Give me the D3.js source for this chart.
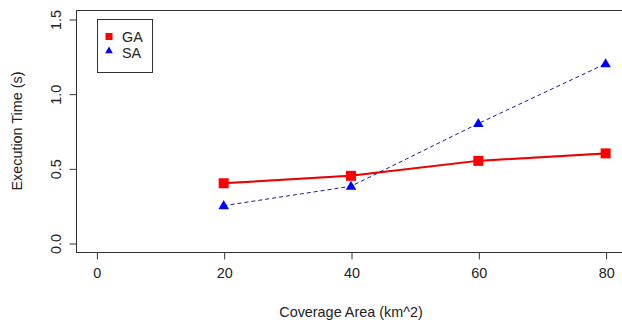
<!DOCTYPE html>
<html>
<head>
<meta charset="utf-8">
<script src="https://cdn.jsdelivr.net/npm/d3@7"></script>
<style>
  html, body { margin: 0; padding: 0; background: #fff; overflow: hidden; }
  svg { display: block; }
  text { font-family: "Liberation Sans", Arial, sans-serif; fill: #222; }
</style>
</head>
<body>
<svg id="chart" width="622" height="325"></svg>
<script>
// Coverage area (km^2) and execution times (s) for the two algorithms
const coverage = [20, 40, 60, 80];
const gaTimes = [0.40, 0.45, 0.55, 0.60];
const saTimes = [0.25, 0.38, 0.80, 1.20];
const xTicks = [0, 20, 40, 60, 80];
const yTicks = [0.0, 0.5, 1.0, 1.5];
const seriesNames = ["GA", "SA"];

const svg = d3.select("#chart");
const fontSize = 14.4;

// Data range padded by 4% on each side, as base graphics does
const xDomain = [0, 80], yDomain = [0, 1.5];
const xPad = (xDomain[1] - xDomain[0]) * 0.04;
const yPad = (yDomain[1] - yDomain[0]) * 0.04;
const x = d3.scaleLinear().domain([xDomain[0] - xPad, xDomain[1] + xPad]).range([76, 626]);
const y = d3.scaleLinear().domain([yDomain[0] - yPad, yDomain[1] + yPad]).range([252, 10]);

// Plot frame
svg.append("rect")
  .attr("x", x.range()[0] + 0.5).attr("y", y.range()[1] + 0.5)
  .attr("width", x.range()[1] - x.range()[0]).attr("height", y.range()[0] - y.range()[1])
  .attr("fill", "none").attr("stroke", "#333").attr("stroke-width", 1);

// X axis
const xAxis = d3.axisBottom(x).tickValues(xTicks).tickSize(7).tickPadding(8).tickFormat(d3.format("d"));
const gx = svg.append("g").attr("transform", `translate(0.5,${y.range()[0] + 0.5})`).call(xAxis);
gx.select(".domain").attr("d", `M${x(xTicks[0])},0H${x(xTicks[xTicks.length - 1])}`).attr("stroke", "none");
gx.selectAll(".tick line").attr("stroke", "#333");
gx.selectAll(".tick text").attr("font-size", fontSize).attr("font-family", "Liberation Sans, Arial, sans-serif").attr("fill", "#222");

// Y axis with rotated labels
const yAxis = d3.axisLeft(y).tickValues(yTicks).tickSize(7).tickFormat(d3.format(".1f"));
const gy = svg.append("g").attr("transform", `translate(${x.range()[0] + 0.5},0.5)`).call(yAxis);
gy.select(".domain").attr("stroke", "none");
gy.selectAll(".tick line").attr("stroke", "#333");
gy.selectAll(".tick text")
  .attr("font-size", fontSize).attr("font-family", "Liberation Sans, Arial, sans-serif").attr("fill", "#222")
  .attr("x", null).attr("dy", null)
  .attr("text-anchor", "middle")
  .attr("transform", "translate(-21,0) rotate(-90)")
  .attr("dy", "0.35em");

// Axis titles
svg.append("text")
  .attr("x", (x.range()[0] + x.range()[1]) / 2).attr("y", 317)
  .attr("text-anchor", "middle").attr("font-size", fontSize)
  .text("Coverage Area (km^2)");
svg.append("text")
  .attr("transform", `translate(22,${(y.range()[0] + y.range()[1]) / 2}) rotate(-90)`)
  .attr("text-anchor", "middle").attr("font-size", fontSize)
  .text("Execution Time (s)");

const line = d3.line().x((d, i) => x(coverage[i])).y(d => y(d));

// GA: solid red line
svg.append("path").datum(gaTimes).attr("d", line)
  .attr("fill", "none").attr("stroke", "#ff0000").attr("stroke-width", 2);
svg.append("path").datum(gaTimes).attr("d", line)
  .attr("fill", "none").attr("stroke", "#8b0000").attr("stroke-width", 0.8).attr("opacity", 0.45)
  .attr("transform", "translate(0,-0.6)");

// SA: dashed dark blue line
svg.append("path").datum(saTimes).attr("d", line)
  .attr("fill", "none").attr("stroke", "#1a1a8c").attr("stroke-width", 1)
  .attr("stroke-dasharray", "4,3");

// Markers
const sq = 10;
svg.selectAll(".ga-pt").data(gaTimes).enter().append("rect")
  .attr("x", (d, i) => x(coverage[i]) - sq / 2).attr("y", d => y(d) - sq / 2)
  .attr("width", sq).attr("height", sq).attr("fill", "#ff0000");

const tri = d3.symbol().type(d3.symbolTriangle).size(48);
svg.selectAll(".sa-pt").data(saTimes).enter().append("path")
  .attr("d", tri)
  .attr("transform", (d, i) => `translate(${x(coverage[i])},${y(d) + 0.5})`)
  .attr("fill", "#0000ff");

// Legend
const lg = svg.append("g");
lg.append("rect").attr("x", 97.5).attr("y", 19.5).attr("width", 55).attr("height", 53)
  .attr("fill", "#fff").attr("stroke", "#333");
lg.append("rect").attr("x", 105.5).attr("y", 33).attr("width", 7).attr("height", 7).attr("fill", "#ff0000");
lg.append("path").attr("d", d3.symbol().type(d3.symbolTriangle).size(26))
  .attr("transform", "translate(109,51)").attr("fill", "#0000ff");
lg.selectAll(".lt").data(seriesNames).enter().append("text")
  .attr("x", 122).attr("y", (d, i) => 37 + i * 16).attr("dy", "0.35em")
  .attr("font-size", fontSize).text(d => d);
</script>
</body>
</html>
